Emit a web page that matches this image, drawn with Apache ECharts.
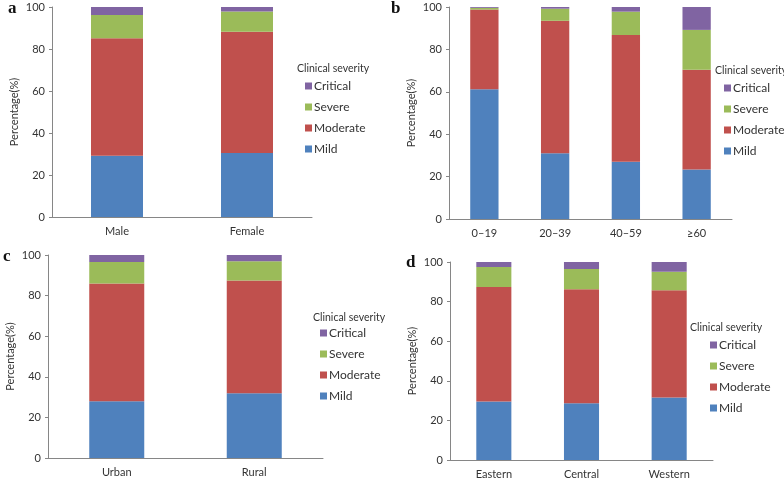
<!DOCTYPE html>
<html>
<head>
<meta charset="UTF-8" />
<title>Clinical severity</title>
<script src="https://cdn.jsdelivr.net/npm/echarts@6/dist/echarts.min.js"></script>
<style>
  html, body { margin: 0; padding: 0; background: #fff; }
  #main { width: 784px; height: 480px; }
</style>
</head>
<body>
<div id="main"></div>
<script>
// severity levels, bottom to top of each stacked bar
var levels = ['Mild', 'Moderate', 'Severe', 'Critical'];
var legendOrder = ['Critical', 'Severe', 'Moderate', 'Mild'];
var levelColors = ['#4F81BD', '#C0504D', '#9BBB59', '#8064A2'];
var yTicks = [0, 20, 40, 60, 80, 100];

// a: sex
var sexCats = ['Male', 'Female'];
var sexMild = [29.2, 30.5];
var sexModerate = [55.9, 57.7];
var sexSevere = [11.1, 9.6];
var sexCritical = [3.8, 2.2];

// b: age group
var ageCats = ['0\u201319', '20\u201339', '40\u201359', '\u226560'];
var ageMild = [61.2, 31.0, 27.0, 23.3];
var ageModerate = [37.6, 62.5, 59.8, 47.1];
var ageSevere = [0.8, 5.7, 11.0, 18.8];
var ageCritical = [0.4, 0.8, 2.2, 10.8];

// c: residence
var resCats = ['Urban', 'Rural'];
var resMild = [27.9, 31.9];
var resModerate = [58.0, 55.5];
var resSevere = [10.7, 9.5];
var resCritical = [3.4, 3.1];

// d: region
var regCats = ['Eastern', 'Central', 'Western'];
var regMild = [29.6, 28.7, 31.6];
var regModerate = [57.8, 57.5, 54.1];
var regSevere = [10.1, 10.3, 9.4];
var regCritical = [2.5, 3.5, 4.9];

var font = 'Lato, "DejaVu Sans", sans-serif';
var textColor = '#333';
var axisColor = '#868686';

// layout of the four panels
var panels = [
  { letter: 'a', cats: sexCats, vals: [sexMild, sexModerate, sexSevere, sexCritical],
    grid: { left: 52, top: 7, width: 260, height: 210 },
    legendTitle: [297, 63], legendPos: [305, 80], letterPos: [8, 0] },
  { letter: 'b', cats: ageCats, vals: [ageMild, ageModerate, ageSevere, ageCritical],
    grid: { left: 449, top: 7, width: 283, height: 212 },
    legendTitle: [715, 65], legendPos: [724, 82], letterPos: [391, 0] },
  { letter: 'c', cats: resCats, vals: [resMild, resModerate, resSevere, resCritical],
    grid: { left: 48, top: 255, width: 275, height: 203 },
    legendTitle: [313, 312], legendPos: [320, 327], letterPos: [3, 248] },
  { letter: 'd', cats: regCats, vals: [regMild, regModerate, regSevere, regCritical],
    grid: { left: 450, top: 262, width: 263, height: 198 },
    legendTitle: [690, 322], legendPos: [710, 339], letterPos: [406, 254] }
];

var grids = [], xAxes = [], yAxes = [], series = [], legends = [], titles = [];

panels.forEach(function (p, i) {
  grids.push(p.grid);
  xAxes.push({
    type: 'category', gridIndex: i, data: p.cats,
    axisLine: { lineStyle: { color: axisColor } },
    axisTick: { length: 4, lineStyle: { color: axisColor } },
    axisLabel: { color: textColor, fontSize: 11, fontFamily: font, margin: 9 }
  });
  yAxes.push({
    type: 'value', gridIndex: i, min: yTicks[0], max: yTicks[yTicks.length - 1], interval: 20,
    name: 'Percentage(%)', nameLocation: 'middle', nameGap: 32,
    nameTextStyle: { color: textColor, fontSize: 11, fontFamily: font },
    axisLine: { show: true, lineStyle: { color: axisColor } },
    axisTick: { show: true, length: 3, lineStyle: { color: axisColor } },
    axisLabel: { color: textColor, fontSize: 11, fontFamily: font, margin: 7 },
    splitLine: { show: false }
  });
  levels.forEach(function (lv, k) {
    series.push({
      name: lv, type: 'bar', stack: 'p' + i,
      xAxisIndex: i, yAxisIndex: i,
      barWidth: '40%',
      itemStyle: { color: levelColors[k] },
      data: p.vals[k]
    });
  });
  legends.push({
    data: legendOrder, orient: 'vertical',
    left: p.legendPos[0], top: p.legendPos[1], padding: 0,
    icon: 'rect', itemWidth: 7, itemHeight: 7, itemGap: 9,
    textStyle: { color: textColor, fontSize: 12, fontFamily: font, lineHeight: 12, padding: [0, 0, 0, -3] }
  });
  titles.push({
    text: 'Clinical severity', left: p.legendTitle[0], top: p.legendTitle[1], padding: 0,
    textStyle: { color: textColor, fontSize: 10.5, fontWeight: 'normal', fontFamily: font }
  });
  titles.push({
    text: p.letter, left: p.letterPos[0], top: p.letterPos[1], padding: 0,
    textStyle: { color: '#111', fontSize: 17, fontWeight: 'bold', fontFamily: '"Liberation Serif", "DejaVu Serif", serif' }
  });
});

var myChart = echarts.init(document.getElementById('main'));
myChart.setOption({
  animation: false,
  backgroundColor: '#fff',
  title: titles,
  legend: legends,
  grid: grids,
  xAxis: xAxes,
  yAxis: yAxes,
  series: series
});
</script>
</body>
</html>
